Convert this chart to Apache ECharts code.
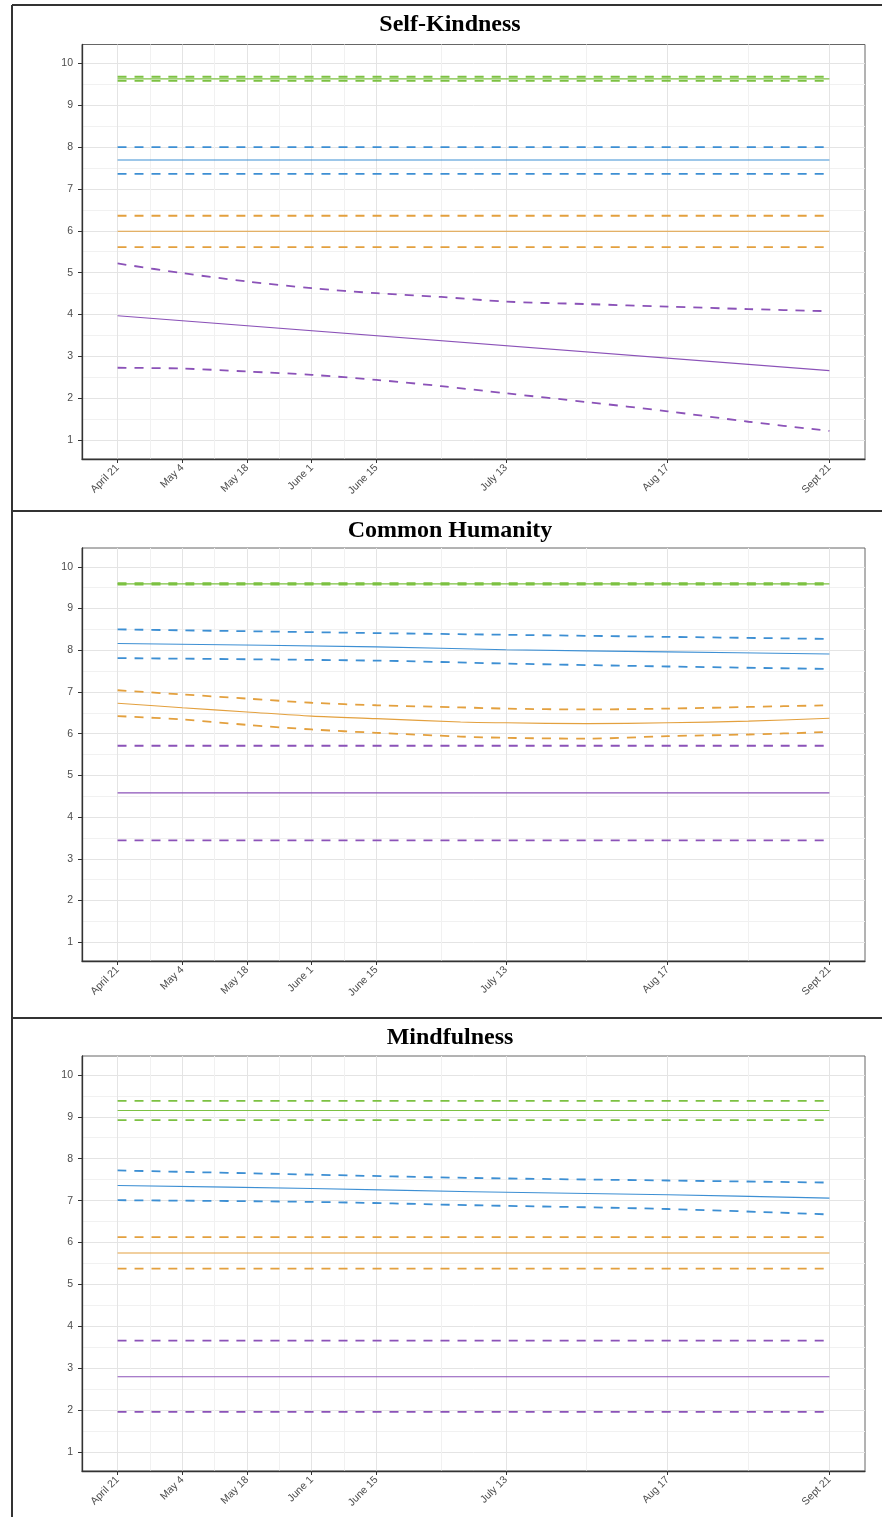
<!DOCTYPE html>
<html>
<head>
<meta charset="utf-8">
<script src="https://cdn.jsdelivr.net/npm/echarts@6/dist/echarts.min.js"></script>
<style>
  html, body { margin: 0; padding: 0; background: #fff; }
  #main { width: 882px; height: 1517px; }
</style>
</head>
<body>
<div id="main"></div>
<script>
// x axis: weeks since April 21
const tickWeeks = [0, 2, 4, 6, 8, 12, 17, 22];
const tickLabels = ['April 21', 'May 4', 'May 18', 'June 1', 'June 15', 'July 13', 'Aug 17', 'Sept 21'];
const minorWeeks = [1, 3, 5, 7, 10, 14.5, 19.5];
const yTicks = [1, 2, 3, 4, 5, 6, 7, 8, 9, 10];
const yMinor = [1.5, 2.5, 3.5, 4.5, 5.5, 6.5, 7.5, 8.5, 9.5];
const flatWeeks = [0, 22];

// Self-Kindness  (flat ones: upper, mean, lower)
const skGreen = [9.68, 9.63, 9.58];
const skBlue = [8.00, 7.69, 7.36];
const skOrange = [6.36, 5.99, 5.61];
const skPurpleWeeks = [0, 2, 4, 6, 8, 10, 12, 14.5, 17, 19.5, 22];
const skPurpleHi = [5.22, 4.99, 4.79, 4.63, 4.51, 4.42, 4.31, 4.25, 4.19, 4.13, 4.08];
const skPurpleMean = [3.97, 2.66]; // straight line, start and end
const skPurpleLo = [2.73, 2.71, 2.64, 2.56, 2.44, 2.29, 2.12, 1.91, 1.69, 1.44, 1.22];

// Common Humanity
const chGreen = [9.61, 9.59, 9.57];
const chPurple = [5.71, 4.58, 3.44];
const chBlueWeeks = [0, 8, 12, 17, 22];
const chBlueHi = [8.50, 8.41, 8.37, 8.32, 8.27];
const chBlueMean = [8.16, 8.08, 8.01, 7.96, 7.91];
const chBlueLo = [7.81, 7.75, 7.68, 7.61, 7.55];
const chOrangeWeeks = [0, 2, 4, 6, 8, 10.6, 12, 14.5, 17, 19.5, 22];
const chOrangeHi = [7.04, 6.94, 6.84, 6.74, 6.68, 6.63, 6.60, 6.58, 6.60, 6.64, 6.68];
const chOrangeMean = [6.73, 6.62, 6.52, 6.42, 6.36, 6.28, 6.26, 6.24, 6.26, 6.30, 6.37];
const chOrangeLo = [6.42, 6.34, 6.21, 6.10, 6.02, 5.93, 5.90, 5.88, 5.94, 5.98, 6.04];

// Mindfulness
const mfGreen = [9.38, 9.15, 8.92];
const mfOrange = [6.13, 5.75, 5.38];
const mfPurple = [3.66, 2.80, 1.96];
const mfBlueWeeks = [0, 6, 11, 17, 22];
const mfBlueHi = [7.72, 7.62, 7.54, 7.48, 7.43];
const mfBlueMean = [7.36, 7.29, 7.21, 7.14, 7.06];
const mfBlueLo = [7.01, 6.97, 6.89, 6.80, 6.67];

const GREEN = '#7cc142', BLUE = '#3d8fd3', ORANGE = '#e3a03e', PURPLE = '#8b52b8';

const myChart = echarts.init(document.querySelector('#main'));

const pair = (xs, ys) => xs.map((x, i) => [x, ys[i]]);

const lineSeries = (idx, data, color, dashed) => ({
  type: 'line',
  xAxisIndex: idx * 2,
  yAxisIndex: idx * 2,
  data: data,
  showSymbol: false,
  smooth: 0.3,
  silent: true,
  lineStyle: {
    color: color,
    width: dashed ? 1.8 : 1.1,
    type: dashed ? [9, 8] : 'solid'
  }
});

// three lines of one flat group
const flatGroup = (idx, vals, color) => [
  lineSeries(idx, pair(flatWeeks, [vals[0], vals[0]]), color, true),
  lineSeries(idx, pair(flatWeeks, [vals[1], vals[1]]), color, false),
  lineSeries(idx, pair(flatWeeks, [vals[2], vals[2]]), color, true)
];

const curveGroup = (idx, xs, hi, mean, lo, color) => [
  lineSeries(idx, pair(xs, hi), color, true),
  lineSeries(idx, pair(xs, mean), color, false),
  lineSeries(idx, pair(xs, lo), color, true)
];

const panels = [
  { title: 'Self-Kindness', titleY: 25, top: 44.5, height: 414.5,
    series: [].concat(
      flatGroup(0, skGreen, GREEN),
      flatGroup(0, skBlue, BLUE),
      flatGroup(0, skOrange, ORANGE),
      lineSeries(0, pair(skPurpleWeeks, skPurpleHi), PURPLE, true),
      lineSeries(0, pair(flatWeeks, skPurpleMean), PURPLE, false),
      lineSeries(0, pair(skPurpleWeeks, skPurpleLo), PURPLE, true)
    ) },
  { title: 'Common Humanity', titleY: 531, top: 548, height: 413,
    series: [].concat(
      flatGroup(1, chGreen, GREEN),
      curveGroup(1, chBlueWeeks, chBlueHi, chBlueMean, chBlueLo, BLUE),
      curveGroup(1, chOrangeWeeks, chOrangeHi, chOrangeMean, chOrangeLo, ORANGE),
      flatGroup(1, chPurple, PURPLE)
    ) },
  { title: 'Mindfulness', titleY: 1038, top: 1056, height: 415,
    series: [].concat(
      flatGroup(2, mfGreen, GREEN),
      curveGroup(2, mfBlueWeeks, mfBlueHi, mfBlueMean, mfBlueLo, BLUE),
      flatGroup(2, mfOrange, ORANGE),
      flatGroup(2, mfPurple, PURPLE)
    ) }
];

const grids = [], xAxes = [], yAxes = [], series = [], graphics = [];

panels.forEach((p, i) => {
  grids.push({
    left: 82, right: 17, top: p.top, height: p.height,
    show: true, borderColor: '#666', borderWidth: 1, backgroundColor: '#fff'
  });
  // major x
  xAxes.push({
    gridIndex: i, type: 'value', min: -1.1, max: 23.1,
    axisLine: { show: true, onZero: false, lineStyle: { color: '#333', width: 1.3 } },
    axisTick: { show: true, customValues: tickWeeks, length: 4, lineStyle: { color: '#333' } },
    axisLabel: {
      customValues: tickWeeks, rotate: 45, margin: 7,
      fontSize: 10.5, color: '#4d4d4d', fontFamily: 'Liberation Sans',
      formatter: v => tickLabels[tickWeeks.indexOf(v)]
    },
    splitLine: { show: true, lineStyle: { color: '#e4e4e4', width: 1 } }
  });
  // minor x grid
  xAxes.push({
    gridIndex: i, type: 'value', min: -1.1, max: 23.1,
    axisLine: { show: false, onZero: false },
    axisTick: { show: false, customValues: minorWeeks },
    axisLabel: { show: false, customValues: minorWeeks },
    splitLine: { show: true, lineStyle: { color: '#f1f1f1', width: 1 } }
  });
  yAxes.push({
    gridIndex: i, type: 'value', min: 0.55, max: 10.45,
    axisLine: { show: true, onZero: false, lineStyle: { color: '#333', width: 1.3 } },
    axisTick: { show: true, customValues: yTicks, length: 4, lineStyle: { color: '#333' } },
    axisLabel: { customValues: yTicks, fontSize: 10.5, color: '#4d4d4d', fontFamily: 'Liberation Sans', margin: 9 },
    splitLine: { show: true, lineStyle: { color: '#e4e4e4', width: 1 } }
  });
  yAxes.push({
    gridIndex: i, type: 'value', min: 0.55, max: 10.45,
    axisLine: { show: false, onZero: false },
    axisTick: { show: false, customValues: yMinor },
    axisLabel: { show: false, customValues: yMinor },
    splitLine: { show: true, lineStyle: { color: '#f1f1f1', width: 1 } }
  });
  p.series.forEach(s => series.push(s));

  graphics.push({
    type: 'text', x: 450, y: p.titleY, z: 10,
    style: {
      text: p.title, fill: '#000', align: 'center', verticalAlign: 'middle',
      fontFamily: 'Liberation Serif', fontWeight: 'bold', fontSize: 24
    }
  });
});

// panel frames
[[12, 5, 882, 5], [12, 5, 12, 1517], [12, 511, 882, 511], [12, 1018, 882, 1018]].forEach(l => {
  graphics.push({
    type: 'line', z: 10,
    shape: { x1: l[0], y1: l[1], x2: l[2], y2: l[3] },
    style: { stroke: '#333', lineWidth: 2 }
  });
});

const option = {
  animation: false,
  grid: grids,
  xAxis: xAxes,
  yAxis: yAxes,
  series: series,
  graphic: graphics
};

myChart.setOption(option);
</script>
</body>
</html>
